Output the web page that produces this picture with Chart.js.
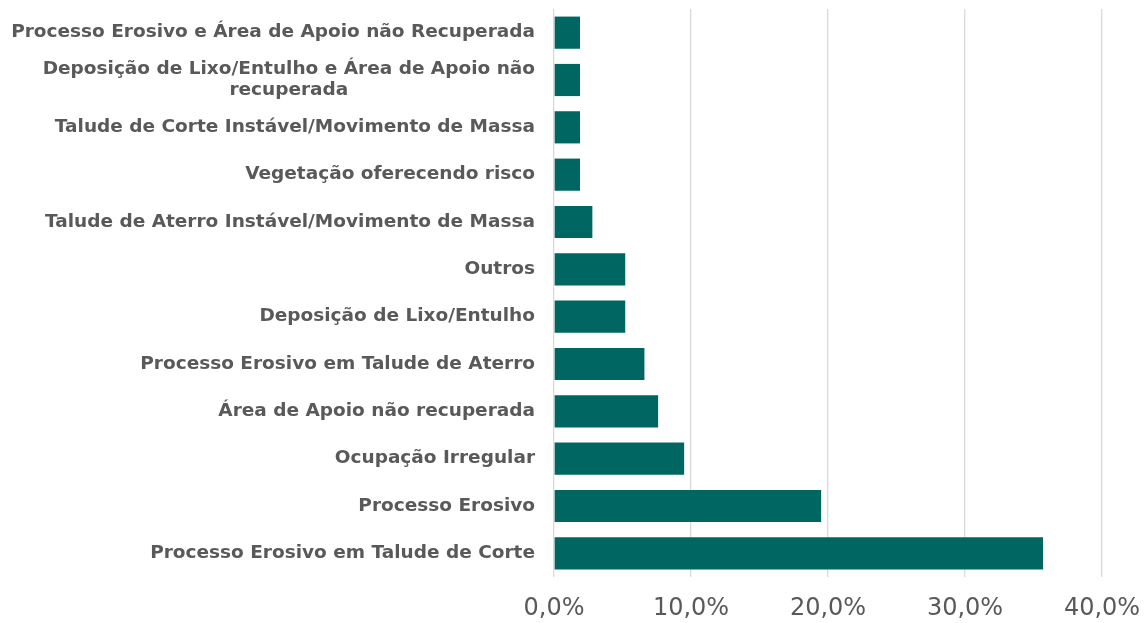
<!DOCTYPE html>
<html>
<head>
<meta charset="utf-8">
<script src="https://cdn.jsdelivr.net/npm/chart.js@4/dist/chart.umd.min.js"></script>
<style>
  html, body { margin: 0; padding: 0; background: #fff; }
  #wrap { width: 1148px; height: 623px; }
</style>
</head>
<body>
<div id="wrap"><canvas id="my-chart"></canvas></div>
<script>
var categories = [
  "Processo Erosivo e Área de Apoio não Recuperada",
  ["Deposição de Lixo/Entulho e Área de Apoio não", "recuperada"],
  "Talude de Corte Instável/Movimento de Massa",
  "Vegetação oferecendo risco",
  "Talude de Aterro Instável/Movimento de Massa",
  "Outros",
  "Deposição de Lixo/Entulho",
  "Processo Erosivo em Talude de Aterro",
  "Área de Apoio não recuperada",
  "Ocupação Irregular",
  "Processo Erosivo",
  "Processo Erosivo em Talude de Corte"
];
var values = [1.9, 1.9, 1.9, 1.9, 2.8, 5.2, 5.2, 6.6, 7.6, 9.5, 19.5, 35.7];
var xTicks = [0, 10, 20, 30, 40];

var labelFont = 'bold 18.5px "DejaVu Sans"';
var labelColor = '#595959';

// draws the category labels right aligned, extra lines centred under the first
var yLabels = {
  id: 'yLabels',
  afterDraw: function(chart) {
    var ctx = chart.ctx;
    var scale = chart.scales.y;
    var xRight = scale.right - 19;
    ctx.save();
    ctx.font = labelFont;
    ctx.fillStyle = labelColor;
    ctx.textBaseline = 'middle';
    ctx.textAlign = 'center';
    for (var i = 0; i < categories.length; i++) {
      var lines = [].concat(categories[i]);
      var w = 0;
      for (var j = 0; j < lines.length; j++)
        w = Math.max(w, ctx.measureText(lines[j]).width);
      var yc = scale.getPixelForValue(i);
      var lh = 21;
      var y0 = yc - (lines.length - 1) * lh / 2;
      for (var j = 0; j < lines.length; j++)
        ctx.fillText(lines[j], xRight - w / 2, y0 + j * lh);
    }
    ctx.restore();
  }
};

var ctx = document.getElementById("my-chart");
var myChart = new Chart(ctx, {
  type: 'bar',
  data: {
    labels: categories,
    datasets: [{
      data: values,
      backgroundColor: '#006662',
      borderWidth: 0,
      categoryPercentage: 1.0,
      barPercentage: 0.68
    }]
  },
  options: {
    indexAxis: 'y',
    responsive: true,
    maintainAspectRatio: false,
    animation: false,
    layout: { padding: { top: 9, right: 46, bottom: 0, left: 0 } },
    plugins: {
      legend: { display: false },
      tooltip: { enabled: false }
    },
    scales: {
      x: {
        min: 0,
        max: 40,
        afterBuildTicks: function(scale) {
          scale.ticks = xTicks.map(function(v) { return { value: v }; });
        },
        afterFit: function(scale) {
          scale.paddingLeft = 0;
          scale.paddingRight = 0;
          scale.height = 46;
        },
        ticks: {
          padding: 17,
          color: '#595959',
          font: { family: 'DejaVu Sans', size: 24 },
          callback: function(v) { return v.toFixed(1).replace('.', ',') + '%'; }
        },
        grid: { color: '#d9d9d9', lineWidth: 1.3, drawTicks: false },
        border: { display: false }
      },
      y: {
        afterFit: function(scale) { scale.width = 554; },
        ticks: { display: false },
        grid: { display: false, drawTicks: false },
        border: { display: false }
      }
    }
  },
  plugins: [yLabels]
});
</script>
</body>
</html>
